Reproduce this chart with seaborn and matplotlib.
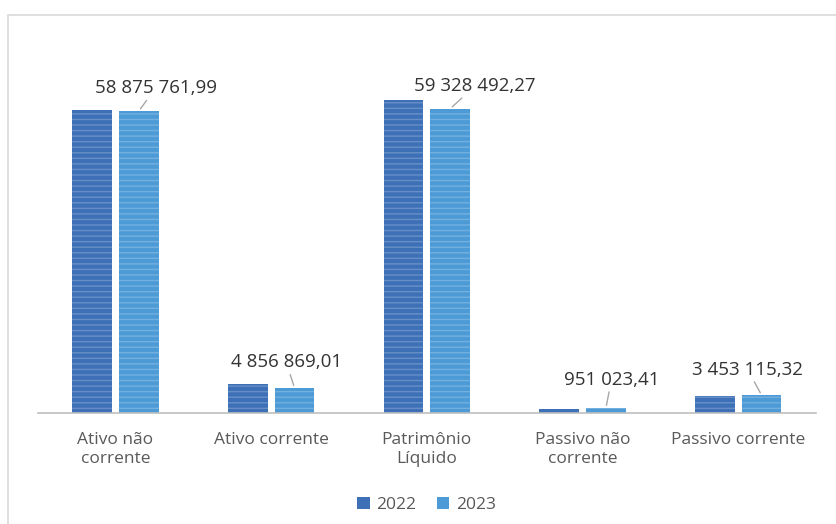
import matplotlib
matplotlib.use("Agg")
import matplotlib.pyplot as plt
import seaborn as sns
import pandas as pd
from matplotlib.patches import Rectangle

categories = ["Ativo não\ncorrente", "Ativo corrente", "Patrimônio\nLíquido",
              "Passivo não\ncorrente", "Passivo corrente"]
years = ["2022", "2023"]
values_2022 = [59_050_000, 5_650_000, 61_100_000, 800_000, 3_250_000]
values_2023 = [58_875_761.99, 4_856_869.01, 59_328_492.27, 951_023.41, 3_453_115.32]
label_offsets = [(12, 10), (-6, 12), (18, 10), (4, 14), (-10, 12)]  # points

df = pd.DataFrame({
    "cat": categories * 2,
    "year": [years[0]] * 5 + [years[1]] * 5,
    "value": values_2022 + values_2023,
})

def fmt(v):
    s = f"{v:,.2f}"
    return s.replace(",", " ").replace(".", ",")

sns.set_theme(style="white")
plt.rcParams["font.family"] = ["Open Sans", "DejaVu Sans"]

fig = plt.figure(figsize=(8.37, 5.24), dpi=100)
fig.patch.set_facecolor("white")
fig.add_artist(Rectangle((0.009, -0.01), 1.0, 0.982, transform=fig.transFigure,
                         fill=False, edgecolor="#d9d9d9", lw=1.2))
ax = fig.add_axes([0.045, 0.212, 0.93, 0.685])

palette = {"2022": "#3d70b7", "2023": "#4c9ad6"}
sns.barplot(data=df, x="cat", y="value", hue="year", palette=palette,
            width=0.6, gap=0.15, ax=ax, saturation=1, legend=True)

for p in ax.patches:
    p.set_hatch("---")
    p.set_edgecolor((1, 1, 1, 0.22))
    p.set_linewidth(0)

ax.set_xlim(-0.5, 4.5)
ax.set_ylim(0, 70e6)
ax.set_yticks([])
ax.set_xlabel("")
ax.set_ylabel("")
for s in ["top", "right", "left"]:
    ax.spines[s].set_visible(False)
ax.spines["bottom"].set_color("#bfbfbf")
ax.spines["bottom"].set_linewidth(1.2)
ax.tick_params(axis="x", length=0, pad=14, labelsize=12.5, labelcolor="#595959")

# labels on 2023 bars
cont = ax.containers[1]
for bar, v, off in zip(cont, values_2023, label_offsets):
    x = bar.get_x() + bar.get_width() / 2
    ax.annotate(fmt(v), xy=(x, v), xytext=off, textcoords="offset points",
                ha="center", va="bottom", fontsize=13.5, color="#333333",
                arrowprops=dict(arrowstyle="-", color="#a6a6a6", lw=1,
                                shrinkA=0, shrinkB=2))

leg = ax.legend(loc="upper center", bbox_to_anchor=(0.5, -0.19), ncol=2,
                frameon=False, fontsize=12.5, handlelength=0.7, handleheight=0.7,
                columnspacing=1.2, handletextpad=0.4)
for t in leg.get_texts():
    t.set_color("#595959")
for h in leg.legend_handles:
    h.set_hatch(None)

fig.savefig("out.png", dpi=100)
